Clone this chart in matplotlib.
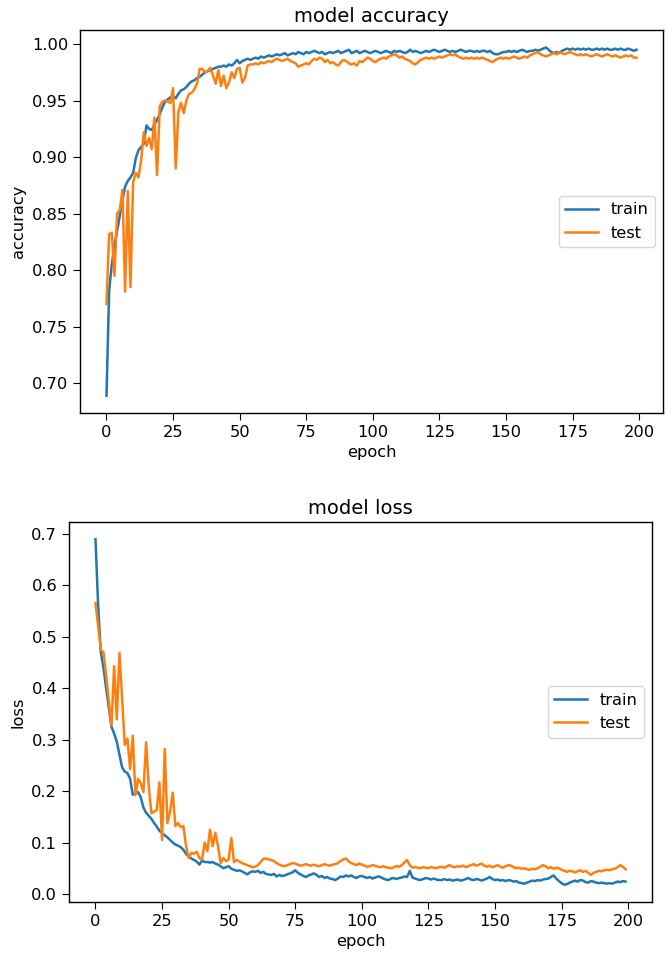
import matplotlib.pyplot as plt

# values, one per epoch (0..199)
train_acc = [
    0.689, 0.782, 0.805, 0.822, 0.835, 0.848, 0.862, 0.874, 0.879, 0.882,
    0.886, 0.899, 0.906, 0.909, 0.912, 0.928, 0.925, 0.924, 0.929, 0.933,
    0.938, 0.944, 0.949, 0.951, 0.953, 0.954, 0.952, 0.956, 0.959, 0.960,
    0.962, 0.965, 0.967, 0.968, 0.970, 0.971, 0.973, 0.975, 0.976, 0.977,
    0.978, 0.979, 0.980, 0.980, 0.981, 0.980, 0.982, 0.981, 0.983, 0.986,
    0.983, 0.985, 0.986, 0.987, 0.986, 0.987, 0.988, 0.987, 0.989, 0.988,
    0.989, 0.990, 0.989, 0.990, 0.991, 0.990, 0.991, 0.992, 0.990, 0.991,
    0.992, 0.991, 0.993, 0.992, 0.991, 0.993, 0.992, 0.993, 0.994, 0.993,
    0.992, 0.993, 0.991, 0.992, 0.993, 0.992, 0.993, 0.994, 0.992, 0.993,
    0.994, 0.995, 0.992, 0.993, 0.994, 0.992, 0.993, 0.994, 0.993, 0.992,
    0.993, 0.994, 0.993, 0.992, 0.993, 0.994, 0.993, 0.992, 0.994, 0.993,
    0.994, 0.993, 0.992, 0.993, 0.995, 0.993, 0.994, 0.993, 0.992, 0.993,
    0.994, 0.993, 0.994, 0.995, 0.994, 0.993, 0.994, 0.995, 0.994, 0.993,
    0.994, 0.993, 0.994, 0.995, 0.994, 0.993, 0.994, 0.994, 0.993, 0.994,
    0.993, 0.994, 0.994, 0.993, 0.994, 0.992, 0.991, 0.991, 0.992, 0.993,
    0.993, 0.994, 0.993, 0.994, 0.993, 0.994, 0.995, 0.994, 0.993, 0.994,
    0.994, 0.995, 0.994, 0.995, 0.996, 0.997, 0.995, 0.993, 0.992, 0.993,
    0.992, 0.994, 0.995, 0.996, 0.995, 0.996, 0.995, 0.996, 0.995, 0.996,
    0.995, 0.996, 0.995, 0.995, 0.996, 0.995, 0.996, 0.995, 0.996, 0.995,
    0.995, 0.996, 0.995, 0.996, 0.995, 0.995, 0.996, 0.995, 0.994, 0.995,
]
test_acc = [
    0.770, 0.832, 0.833, 0.795, 0.850, 0.853, 0.871, 0.781, 0.870, 0.785,
    0.878, 0.886, 0.882, 0.897, 0.922, 0.910, 0.917, 0.907, 0.935, 0.884,
    0.945, 0.949, 0.950, 0.949, 0.948, 0.961, 0.890, 0.940, 0.948, 0.939,
    0.950, 0.956, 0.957, 0.960, 0.965, 0.978, 0.978, 0.975, 0.976, 0.979,
    0.972, 0.965, 0.977, 0.963, 0.972, 0.961, 0.966, 0.975, 0.970, 0.978,
    0.979, 0.966, 0.970, 0.981, 0.982, 0.982, 0.983, 0.982, 0.984, 0.983,
    0.984, 0.985, 0.984, 0.986, 0.987, 0.986, 0.985, 0.986, 0.987, 0.985,
    0.984, 0.983, 0.980, 0.981, 0.982, 0.983, 0.982, 0.985, 0.987, 0.986,
    0.988, 0.987, 0.984, 0.986, 0.983, 0.984, 0.982, 0.981, 0.984, 0.986,
    0.985, 0.983, 0.982, 0.983, 0.981, 0.985, 0.984, 0.986, 0.988, 0.987,
    0.985, 0.984, 0.986, 0.987, 0.988, 0.987, 0.989, 0.990, 0.991, 0.990,
    0.988, 0.989, 0.987, 0.986, 0.985, 0.983, 0.982, 0.984, 0.986, 0.987,
    0.988, 0.987, 0.988, 0.987, 0.988, 0.989, 0.988, 0.989, 0.990, 0.991,
    0.990, 0.991, 0.989, 0.988, 0.987, 0.988, 0.987, 0.988, 0.987, 0.988,
    0.987, 0.988, 0.987, 0.986, 0.985, 0.984, 0.986, 0.987, 0.988, 0.987,
    0.988, 0.987, 0.988, 0.989, 0.988, 0.987, 0.988, 0.989, 0.988, 0.990,
    0.991, 0.992, 0.993, 0.991, 0.990, 0.989, 0.990, 0.991, 0.992, 0.991,
    0.993, 0.992, 0.991, 0.992, 0.993, 0.992, 0.991, 0.990, 0.991, 0.990,
    0.991, 0.990, 0.989, 0.990, 0.991, 0.990, 0.989, 0.990, 0.991, 0.990,
    0.989, 0.990, 0.989, 0.988, 0.989, 0.990, 0.989, 0.990, 0.988, 0.988,
]
train_loss = [
    0.690, 0.560, 0.470, 0.440, 0.400, 0.362, 0.325, 0.312, 0.296, 0.271,
    0.246, 0.238, 0.235, 0.224, 0.193, 0.196, 0.198, 0.188, 0.168, 0.158,
    0.152, 0.146, 0.138, 0.131, 0.123, 0.118, 0.114, 0.110, 0.105, 0.100,
    0.096, 0.094, 0.091, 0.086, 0.078, 0.073, 0.069, 0.066, 0.063, 0.057,
    0.065, 0.062, 0.062, 0.061, 0.062, 0.059, 0.057, 0.054, 0.050, 0.052,
    0.054, 0.049, 0.047, 0.045, 0.046, 0.044, 0.041, 0.038, 0.042, 0.044,
    0.043, 0.045, 0.041, 0.043, 0.039, 0.038, 0.037, 0.039, 0.034, 0.037,
    0.035, 0.036, 0.038, 0.040, 0.042, 0.046, 0.041, 0.038, 0.035, 0.033,
    0.036, 0.038, 0.040, 0.037, 0.033, 0.035, 0.031, 0.033, 0.030, 0.029,
    0.027, 0.030, 0.034, 0.033, 0.036, 0.034, 0.036, 0.033, 0.031, 0.034,
    0.035, 0.033, 0.031, 0.033, 0.030, 0.032, 0.034, 0.033, 0.030, 0.028,
    0.027, 0.030, 0.031, 0.029, 0.031, 0.032, 0.034, 0.033, 0.045, 0.032,
    0.030, 0.028, 0.027, 0.029, 0.031, 0.030, 0.028, 0.030, 0.028, 0.027,
    0.027, 0.029, 0.027, 0.028, 0.026, 0.027, 0.028, 0.026, 0.027, 0.029,
    0.031, 0.028, 0.027, 0.029, 0.028, 0.026, 0.028, 0.030, 0.033, 0.029,
    0.027, 0.028, 0.026, 0.027, 0.025, 0.027, 0.026, 0.024, 0.025, 0.022,
    0.021, 0.020, 0.022, 0.024, 0.026, 0.025, 0.027, 0.026, 0.028, 0.029,
    0.030, 0.033, 0.036, 0.030, 0.025, 0.021, 0.018, 0.019, 0.022, 0.024,
    0.026, 0.024, 0.027, 0.026, 0.023, 0.022, 0.025, 0.024, 0.022, 0.021,
    0.022, 0.021, 0.020, 0.021, 0.020, 0.022, 0.024, 0.023, 0.025, 0.024,
]
test_loss = [
    0.566, 0.520, 0.475, 0.470, 0.425, 0.375, 0.328, 0.443, 0.340, 0.469,
    0.380, 0.290, 0.302, 0.243, 0.308, 0.192, 0.224, 0.215, 0.198, 0.295,
    0.210, 0.157, 0.160, 0.163, 0.217, 0.105, 0.282, 0.138, 0.160, 0.197,
    0.132, 0.138, 0.130, 0.132, 0.093, 0.070, 0.080, 0.078, 0.082, 0.070,
    0.067, 0.100, 0.083, 0.125, 0.093, 0.119, 0.093, 0.060, 0.070, 0.064,
    0.067, 0.109, 0.062, 0.066, 0.063, 0.060, 0.058, 0.056, 0.054, 0.052,
    0.053, 0.056, 0.062, 0.068, 0.069, 0.067, 0.066, 0.064, 0.060, 0.057,
    0.055, 0.054, 0.056, 0.058, 0.060, 0.059, 0.057, 0.055, 0.056, 0.058,
    0.056, 0.055, 0.057, 0.055, 0.054, 0.056, 0.058, 0.056, 0.055, 0.057,
    0.058, 0.060, 0.064, 0.067, 0.069, 0.064, 0.060, 0.058, 0.056, 0.059,
    0.057, 0.055, 0.053, 0.054, 0.056, 0.055, 0.053, 0.052, 0.054, 0.052,
    0.051, 0.050, 0.052, 0.054, 0.053, 0.056, 0.061, 0.066, 0.056, 0.051,
    0.052, 0.051, 0.050, 0.052, 0.051, 0.050, 0.052, 0.051, 0.050, 0.052,
    0.053, 0.051, 0.054, 0.056, 0.053, 0.052, 0.054, 0.053, 0.055, 0.052,
    0.054, 0.056, 0.058, 0.055, 0.057, 0.059, 0.055, 0.053, 0.055, 0.052,
    0.054, 0.056, 0.053, 0.051, 0.054, 0.056, 0.055, 0.052, 0.050, 0.051,
    0.049, 0.050, 0.048, 0.047, 0.049, 0.048, 0.050, 0.053, 0.056, 0.054,
    0.050, 0.052, 0.049, 0.051, 0.050, 0.047, 0.045, 0.043, 0.045, 0.044,
    0.042, 0.044, 0.046, 0.043, 0.045, 0.041, 0.037, 0.041, 0.043, 0.045,
    0.044, 0.046, 0.047, 0.046, 0.048, 0.049, 0.052, 0.056, 0.053, 0.048,
]

epochs = list(range(len(train_acc)))

plt.rcParams["font.size"] = 11.7
plt.rcParams["axes.linewidth"] = 1.0
plt.rcParams["xtick.major.size"] = 5
plt.rcParams["ytick.major.size"] = 5
plt.rcParams["lines.linewidth"] = 1.8

fig = plt.figure(figsize=(6.66, 9.57), dpi=100)

# accuracy panel
ax1 = fig.add_axes([0.1201, 0.5684, 0.8754, 0.4002])
ax1.plot(epochs, train_acc, label="train")
ax1.plot(epochs, test_acc, label="test")
ax1.set_title("model accuracy", fontsize=14)
ax1.set_ylabel("accuracy")
ax1.set_xlabel("epoch")
ax1.set_xticks([0, 25, 50, 75, 100, 125, 150, 175, 200])
ax1.legend(loc="center right")

# loss panel
ax2 = fig.add_axes([0.1036, 0.0575, 0.8754, 0.3971])
ax2.plot(epochs, train_loss, label="train")
ax2.plot(epochs, test_loss, label="test")
ax2.set_title("model loss", fontsize=14)
ax2.set_ylabel("loss")
ax2.set_xlabel("epoch")
ax2.set_xticks([0, 25, 50, 75, 100, 125, 150, 175, 200])
ax2.legend(loc="center right")

plt.savefig("out.png", dpi=100)
